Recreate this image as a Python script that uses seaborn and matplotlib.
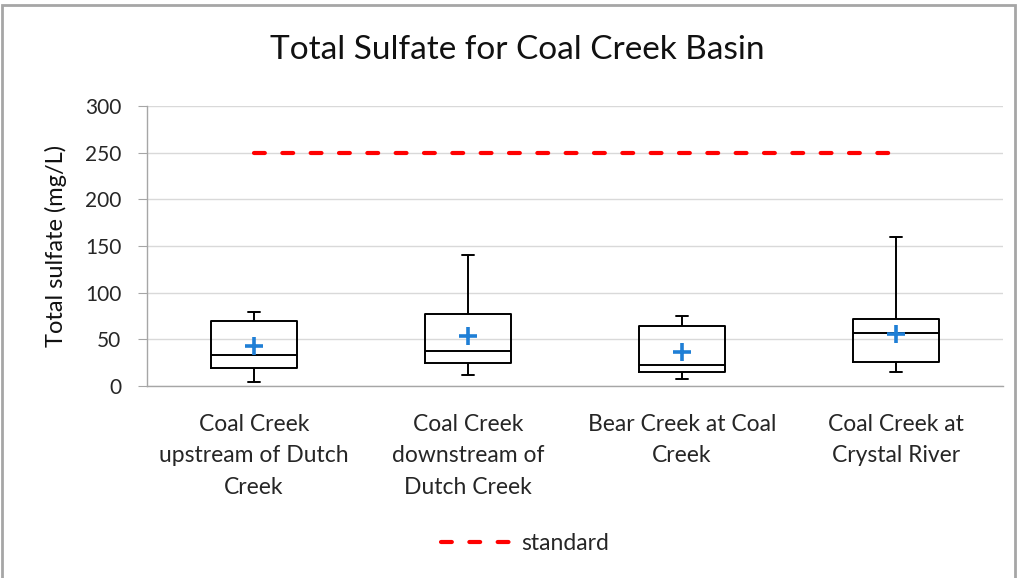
import pandas as pd
import seaborn as sns
import matplotlib.pyplot as plt
from matplotlib.patches import Rectangle

sites = ['Coal Creek\nupstream of Dutch\nCreek',
         'Coal Creek\ndownstream of\nDutch Creek',
         'Bear Creek at Coal\nCreek',
         'Coal Creek at\nCrystal River']
mins = [4, 12, 8, 15]
q1 = [19, 25, 15, 26]
medians = [33, 37, 23, 57]
q3 = [70, 77, 64, 72]
maxs = [79, 140, 75, 160]
means = [43, 54, 36, 56]
standard = [250, 250, 250, 250]

# five-number summary per site; with whis=(0, 100) seaborn draws these exactly
rows = []
for i, s in enumerate(sites):
    for v in (mins[i], q1[i], medians[i], q3[i], maxs[i]):
        rows.append({'site': s, 'sulfate': v})
data = pd.DataFrame(rows)
mean_df = pd.DataFrame({'site': sites, 'mean': means})
std_df = pd.DataFrame({'site': sites, 'standard': standard})

sns.set_style('white')
plt.rcParams['font.family'] = ['Lato', 'DejaVu Sans']

fig = plt.figure(figsize=(10.19, 5.78), dpi=100)
ax = fig.add_axes([0.1443, 0.3322, 0.84, 0.4844])

sns.boxplot(data, x='site', y='sulfate', order=sites, whis=(0, 100), width=0.4,
            fill=False, color='black', linewidth=1.4, ax=ax,
            capprops={'color': 'black'}, medianprops={'color': 'black'})

# shrink the caps to Excel-like short bars
for line in ax.lines:
    xd = line.get_xdata()
    yd = line.get_ydata()
    if len(xd) == 2 and yd[0] == yd[1] and abs(xd[1] - xd[0]) < 0.39:
        c = (xd[0] + xd[1]) / 2
        line.set_xdata([c - 0.028, c + 0.028])

sns.scatterplot(mean_df, x='site', y='mean', marker='+', s=160, linewidth=2.6,
                color='#1f7fd6', ax=ax, zorder=5)

sns.lineplot(std_df, x='site', y='standard', color='#ff0000', linewidth=3,
             label='standard', ax=ax, zorder=4, sort=False)
std_line = ax.lines[-1]
std_line.set_dashes((2.6, 4.2))
std_line.set_dash_capstyle('round')

ax.set_xlim(-0.5, 3.5)
ax.set_ylim(0, 300)
ax.set_yticks(range(0, 301, 50))
ax.yaxis.grid(True, color='#d9d9d9', linewidth=1)
ax.set_axisbelow(True)
for side in ('top', 'right'):
    ax.spines[side].set_visible(False)
for side in ('left', 'bottom'):
    ax.spines[side].set_color('#a6a6a6')
    ax.spines[side].set_linewidth(1)

ax.set_xticks(range(len(sites)))
ax.set_xticklabels(sites, fontsize=16.5, color='#262626', linespacing=1.62)
ax.set_xticks([-0.5, 0.5, 1.5, 2.5, 3.5], minor=True)
ax.tick_params(axis='x', which='major', length=0, pad=20)
ax.tick_params(axis='x', which='minor', length=7, color='#a6a6a6', direction='out')
ax.tick_params(axis='y', length=6.5, color='#a6a6a6', direction='out', left=True,
               labelsize=15, labelcolor='#262626', pad=12)
ax.set_xlabel('')
ax.set_ylabel('Total sulfate (mg/L)', fontsize=17, color='#111111', labelpad=13)

fig.suptitle('Total Sulfate for Coal Creek Basin', fontsize=24, color='#111111',
             x=0.508, y=0.913, va='center')

ax.get_legend().remove()
handles, labels = ax.get_legend_handles_labels()
leg = fig.legend(handles[-1:], labels[-1:], loc='center', bbox_to_anchor=(0.515, 0.06),
                 frameon=False, fontsize=16.5, handlelength=3.0, handletextpad=0.5)
for t in leg.get_texts():
    t.set_color('#262626')
for h in leg.get_lines():
    h.set_dashes((2.6, 4.2))
    h.set_dash_capstyle('round')

fig.patches.append(Rectangle((0.002, -0.2), 0.994, 1.191, transform=fig.transFigure,
                             fill=False, edgecolor='#a6a6a6', linewidth=2))

fig.savefig('out.png', dpi=100)
